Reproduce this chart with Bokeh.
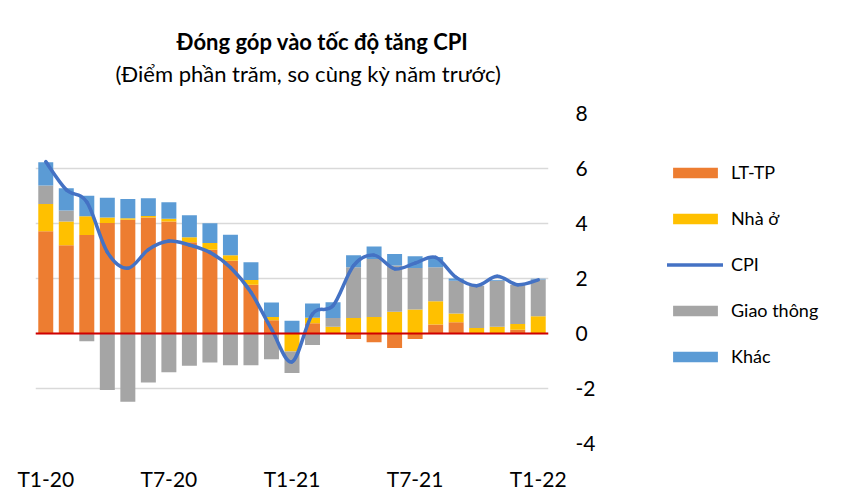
from bokeh.plotting import figure
from bokeh.layouts import row, column
from bokeh.models import (Range1d, FixedTicker, Span, Label, Legend, LegendItem,
                          ColumnDataSource)
from bokeh.embed import file_html
from bokeh.resources import INLINE

# ---- data ----
months = ["T1-20", "T2-20", "T3-20", "T4-20", "T5-20", "T6-20", "T7-20", "T8-20",
          "T9-20", "T10-20", "T11-20", "T12-20", "T1-21", "T2-21", "T3-21", "T4-21",
          "T5-21", "T6-21", "T7-21", "T8-21", "T9-21", "T10-21", "T11-21", "T12-21",
          "T1-22"]
lt_tp = [3.72, 3.21, 3.58, 4.02, 4.14, 4.22, 4.07, 3.32, 3.05, 2.65, 1.77, 0.48, 0.0,
         0.37, 0.0, -0.20, -0.32, -0.53, -0.20, 0.33, 0.41, 0.0, 0.0, 0.14, 0.0]
nha_o = [0.99, 0.86, 0.68, 0.20, 0.05, 0.05, 0.10, 0.18, 0.24, 0.20, 0.18, 0.12, -0.65,
         0.20, 0.25, 0.56, 0.60, 0.79, 0.87, 0.84, 0.32, 0.20, 0.25, 0.21, 0.63]
giao_thong = [0.67, 0.40, -0.28, -2.05, -2.48, -1.78, -1.41, -1.17, -1.05, -1.15, -1.15,
              -0.94, -0.79, -0.42, 0.31, 1.85, 2.11, 1.68, 1.51, 1.24, 1.19, 1.54, 1.67,
              1.42, 1.33]
khac = [0.85, 0.81, 0.75, 0.72, 0.70, 0.65, 0.60, 0.80, 0.72, 0.74, 0.64, 0.53, 0.46,
        0.52, 0.58, 0.44, 0.45, 0.42, 0.43, 0.37, 0.08, 0.0, 0.03, 0.0, 0.03]
cpi = [6.25, 5.23, 4.78, 2.96, 2.37, 3.05, 3.36, 3.22, 2.95, 2.40, 1.50, 0.16, -1.03,
       0.71, 1.01, 2.47, 2.85, 2.35, 2.56, 2.77, 2.04, 1.74, 2.08, 1.77, 1.95]
tick_labels = ["T1-20", "T7-20", "T1-21", "T7-21", "T1-22"]
y_ticks = [-4, -2, 0, 2, 4, 6, 8]
legend_order = ["LT-TP", "Nhà ở", "CPI", "Giao thông", "Khác"]
title_text = "Đóng góp vào tốc độ tăng CPI"
subtitle_text = "(Điểm phần trăm, so cùng kỳ năm trước)"

FONT = "Lato"
COLORS = {"LT-TP": "#ED7D31", "Nhà ở": "#FFC000", "Giao thông": "#A5A5A5",
          "Khác": "#5B9BD5", "CPI": "#4472C4"}
W = 845
H = 495
T = 90          # height of the title strip
PW = 610        # width of the chart canvas


def bare(fig):
    fig.outline_line_color = None
    fig.grid.visible = False
    fig.title.visible = False


# ---- title strip ----
t = figure(width=W, height=T, output_backend="svg", toolbar_location=None,
           x_range=Range1d(0, 1), y_range=Range1d(0, 1), x_axis_location=None,
           y_axis_location=None, min_border_left=0, min_border_right=0,
           min_border_top=0, min_border_bottom=0)
bare(t)
t.add_layout(Label(x=322, y=T - 41, x_units="screen", y_units="screen", text=title_text,
                   text_align="center", text_baseline="alphabetic", text_font=FONT,
                   text_font_size="22px", text_font_style="bold", text_color="black"))
t.add_layout(Label(x=308, y=T - 73, x_units="screen", y_units="screen",
                   text=subtitle_text, text_align="center", text_baseline="alphabetic",
                   text_font=FONT, text_font_size="22px", text_color="black"))

# ---- chart ----
p = figure(width=PW, height=H - T, output_backend="svg", toolbar_location=None,
           x_range=Range1d(-0.5, len(months) - 0.5), y_range=Range1d(-4, 8),
           y_axis_location="right", min_border_left=35, min_border_right=PW - 548,
           min_border_top=113 - T, min_border_bottom=H - 443)
p.outline_line_color = None
p.title.visible = False
p.xgrid.grid_line_color = None
p.ygrid.grid_line_color = "#D9D9D9"
p.ygrid.grid_line_width = 1.3
p.ygrid.ticker = FixedTicker(ticks=y_ticks)

for ax in (p.xaxis[0], p.yaxis[0]):
    ax.axis_line_color = None
    ax.major_tick_line_color = None
    ax.minor_tick_line_color = None
    ax.major_tick_out = 0
    ax.major_tick_in = 0
    ax.minor_tick_out = 0
    ax.minor_tick_in = 0
    ax.major_label_text_font = FONT
    ax.major_label_text_font_size = "21px"
    ax.major_label_text_color = "black"
p.yaxis.ticker = FixedTicker(ticks=y_ticks)
p.yaxis.major_label_overrides = {v: str(v) for v in y_ticks}
p.yaxis.major_label_standoff = 27
xt = [months.index(s) for s in tick_labels]
p.xaxis.ticker = FixedTicker(ticks=xt)
p.xaxis.major_label_overrides = {i: months[i] for i in xt}
p.xaxis.major_label_standoff = 22

n = len(months)
xs = list(range(n))
series = [("LT-TP", lt_tp), ("Nhà ở", nha_o), ("Giao thông", giao_thong), ("Khác", khac)]


def stacked_sources():
    pos = [0.0] * n
    neg = [0.0] * n
    out = {}
    for name, vals in series:
        b, tp = [], []
        for i, v in enumerate(vals):
            if v >= 0:
                b.append(pos[i]); pos[i] += v; tp.append(pos[i])
            else:
                b.append(neg[i]); neg[i] += v; tp.append(neg[i])
        out[name] = ColumnDataSource(dict(x=xs, bottom=b, top=tp))
    return out


def cpi_source():
    d = {k: [] for k in ("x0", "y0", "x1", "y1", "cx0", "cy0", "cx1", "cy1")}
    for i in range(n - 1):
        pm = max(i - 1, 0)
        pp = min(i + 2, n - 1)
        d["x0"].append(xs[i]); d["y0"].append(cpi[i])
        d["x1"].append(xs[i + 1]); d["y1"].append(cpi[i + 1])
        d["cx0"].append(xs[i] + (xs[i + 1] - xs[pm]) / 6.0)
        d["cy0"].append(cpi[i] + (cpi[i + 1] - cpi[pm]) / 6.0)
        d["cx1"].append(xs[i + 1] - (xs[pp] - xs[i]) / 6.0)
        d["cy1"].append(cpi[i + 1] - (cpi[pp] - cpi[i]) / 6.0)
    return ColumnDataSource(d)


def draw(fig, visible=True):
    rs = {}
    for name, src in stacked_sources().items():
        rs[name] = fig.vbar(x="x", bottom="bottom", top="top", width=0.73, source=src,
                            fill_color=COLORS[name], line_color=None, visible=visible)
    rs["CPI"] = fig.bezier(x0="x0", y0="y0", x1="x1", y1="y1", cx0="cx0", cy0="cy0",
                           cx1="cx1", cy1="cy1", source=cpi_source(),
                           line_color=COLORS["CPI"], line_width=3.5, line_cap="round",
                           visible=visible)
    return rs


bar_r = draw(p)
p.add_layout(Span(location=0, dimension="width", line_color="#D00000", line_width=2,
                  level="glyph"))

# ---- legend canvas (to the right of the chart) ----
q = figure(width=W - PW, height=H - T, output_backend="svg", toolbar_location=None,
           x_range=Range1d(0, 1), y_range=Range1d(0, 1), x_axis_location=None,
           y_axis_location=None, min_border_left=0, min_border_right=0,
           min_border_top=0, min_border_bottom=0)
bare(q)
leg_r = draw(q, visible=False)
legend = Legend(items=[LegendItem(label=k, renderers=[leg_r[k]]) for k in legend_order],
                location=(57, 76), padding=0, margin=0, border_line_color=None,
                background_fill_alpha=0, inactive_fill_alpha=0,
                glyph_width=56, glyph_height=13, label_standoff=8,
                label_text_font=FONT, label_text_font_size="18px",
                label_text_color="black", spacing=24, label_height=20)
q.add_layout(legend, "center")

open("out.html", "w").write(file_html(column(t, row(p, q)), INLINE))
